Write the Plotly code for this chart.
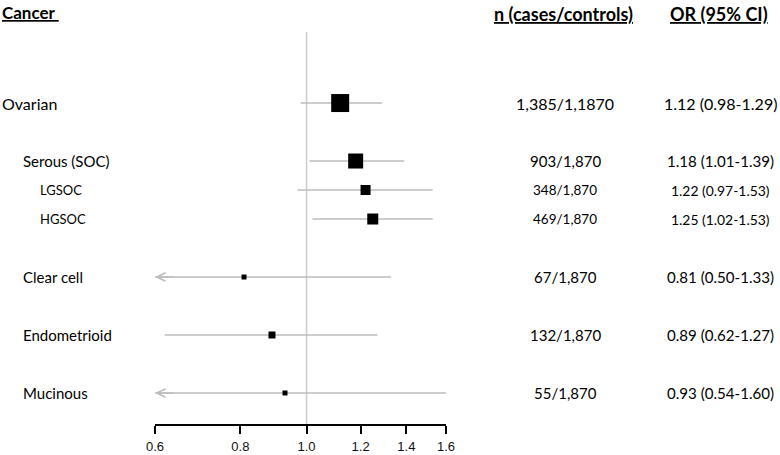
import numpy as np
import plotly.graph_objects as go

# ---- data ----
cancers = ["Ovarian", "Serous (SOC)", "LGSOC", "HGSOC", "Clear cell", "Endometrioid", "Mucinous"]
n_cases_controls = ["1,385/1,1870", "903/1,870", "348/1,870", "469/1,870", "67/1,870", "132/1,870", "55/1,870"]
odds_ratio = [1.12, 1.18, 1.22, 1.25, 0.81, 0.89, 0.93]
ci_low = [0.98, 1.01, 0.97, 1.02, 0.50, 0.62, 0.54]
ci_high = [1.29, 1.39, 1.53, 1.53, 1.33, 1.27, 1.60]
tick_vals = [0.6, 0.8, 1.0, 1.2, 1.4, 1.6]
tick_labels = ["0.6", "0.8", "1.0", "1.2", "1.4", "1.6"]

# ---- layout / style ----
row_pos = [0, 2, 3, 4, 6, 8, 10]
level = [0, 1, 2, 2, 1, 1, 1]
marker_px = [18, 15, 10, 11, 5, 7, 5]
label_font = {0: 16, 1: 15, 2: 13}
n_font = {0: 16, 1: 15, 2: 13.5}
or_font = {0: 16.0, 1: 15.1, 2: 13.9}
indent_px = {0: 0, 1: 21, 2: 38}

W, H = 780, 455
L, R, T, B = 155, 334, 32, 31
pw, ph = W - L - R, H - T - B
xmin, xmax = tick_vals[0], tick_vals[-1]

def px2paper_x(px):
    return (px - L) / pw

def px2paper_y(py):
    return (H - B - py) / ph

FONT = "Lato, Carlito, Calibri, sans-serif"
CI_COLOR = "#bdbdbd"

fig = go.Figure()

# reference line at OR = 1
fig.add_shape(type="line", xref="x", yref="paper", x0=1.0, x1=1.0, y0=0, y1=1,
              line=dict(color="#cccccc", width=1.5), layer="below")

# CI lines
xs, ys = [], []
for lo, hi, y in zip(ci_low, ci_high, row_pos):
    xs += [max(lo, xmin), min(hi, xmax), None]
    ys += [y, y, None]
fig.add_trace(go.Scatter(x=xs, y=ys, mode="lines", line=dict(color=CI_COLOR, width=1.5),
                         hoverinfo="skip", showlegend=False, cliponaxis=False))

# point estimates
fig.add_trace(go.Scatter(x=odds_ratio, y=row_pos, mode="markers",
                         marker=dict(symbol="square", size=marker_px, color="#000000",
                                     opacity=1, line=dict(width=0)),
                         showlegend=False, cliponaxis=False))

annotations = []
# arrows for truncated CIs
for lo, y in zip(ci_low, row_pos):
    if lo < xmin:
        annotations.append(dict(x=np.log10(xmin), y=y, xref="x", yref="y", ax=20, ay=0,
                                showarrow=True, arrowhead=5, arrowsize=1.3, arrowwidth=1.3,
                                arrowcolor=CI_COLOR, text="", standoff=0))

# row texts
for name, n, o, lo, hi, y, lv in zip(cancers, n_cases_controls, odds_ratio, ci_low, ci_high, row_pos, level):
    annotations.append(dict(x=px2paper_x(indent_px[lv]), xref="paper", y=y, yref="y", text=name,
                            showarrow=False, xanchor="left", yanchor="middle",
                            font=dict(family=FONT, size=label_font[lv], color="black")))
    annotations.append(dict(x=px2paper_x(565), xref="paper", y=y, yref="y", text=n,
                            showarrow=False, xanchor="center", yanchor="middle",
                            font=dict(family=FONT, size=n_font[lv], color="black")))
    annotations.append(dict(x=px2paper_x(720), xref="paper", y=y, yref="y",
                            text=f"{o:.2f} ({lo:.2f}-{hi:.2f})",
                            showarrow=False, xanchor="center", yanchor="middle",
                            font=dict(family=FONT, size=or_font[lv], color="black")))

# headers
annotations.append(dict(x=px2paper_x(0), xref="paper", y=px2paper_y(13), yref="paper",
                        text="<b><u>Cancer&nbsp;</u></b>", showarrow=False,
                        xanchor="left", yanchor="middle",
                        font=dict(family=FONT, size=17, color="black")))
annotations.append(dict(x=px2paper_x(563), xref="paper", y=px2paper_y(14), yref="paper",
                        text="<b><u>n (cases/controls)</u></b>", showarrow=False,
                        xanchor="center", yanchor="middle",
                        font=dict(family=FONT, size=18, color="black")))
annotations.append(dict(x=px2paper_x(719), xref="paper", y=px2paper_y(14), yref="paper",
                        text="<b><u>OR (95% CI)</u></b>", showarrow=False,
                        xanchor="center", yanchor="middle",
                        font=dict(family=FONT, size=18, color="black")))

fig.update_layout(
    width=W, height=H,
    margin=dict(l=L, r=R, t=T, b=B, pad=0, autoexpand=False),
    paper_bgcolor="white", plot_bgcolor="white",
    annotations=annotations,
    xaxis=dict(type="log", range=[np.log10(xmin), np.log10(xmax)],
               tickvals=tick_vals, ticktext=tick_labels,
               showgrid=False, zeroline=False, automargin=False,
               showline=True, linecolor="black", linewidth=1.5,
               ticks="outside", ticklen=8, tickwidth=1.5, tickcolor="black",
               ticklabelstandoff=2,
               tickfont=dict(family="Liberation Sans, Arial, sans-serif", size=13, color="#111111"),
               fixedrange=True),
    yaxis=dict(range=[11.07, -2.45], visible=False, fixedrange=True, automargin=False),
    showlegend=False,
)

fig.write_html("out.html", config=dict(displayModeBar=False),
               post_script="document.body.style.margin='0';document.body.style.overflow='hidden';")
